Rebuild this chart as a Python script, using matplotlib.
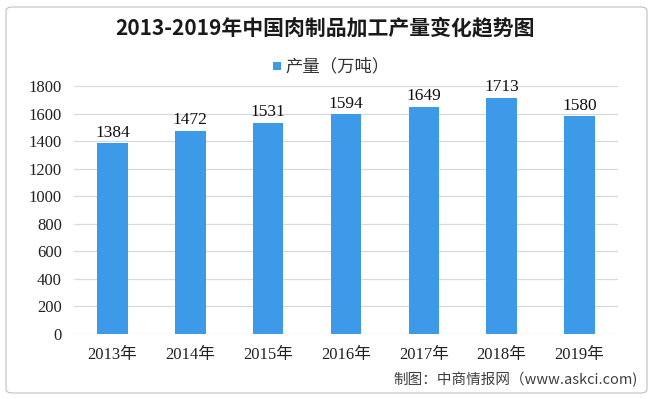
import matplotlib
matplotlib.use("Agg")
import matplotlib.pyplot as plt
from matplotlib.patches import FancyBboxPatch, Rectangle

years = ["2013年", "2014年", "2015年", "2016年", "2017年", "2018年", "2019年"]
output = [1384, 1472, 1531, 1594, 1649, 1713, 1580]
yticks = [0, 200, 400, 600, 800, 1000, 1200, 1400, 1600, 1800]
title = "2013-2019年中国肉制品加工产量变化趋势图"
legend_label = "产量（万吨）"
source = "制图：中商情报网（www.askci.com)"

CJK = ["Noto Sans CJK SC", "DejaVu Sans"]
NUM = ["Liberation Serif", "Noto Sans CJK SC"]
bar_color = "#3d9ae8"

fig = plt.figure(figsize=(6.53, 3.99), dpi=100)
W, H = 653, 399

# outer rounded frame
frame = FancyBboxPatch((6 / W, 6 / H), (641 / W), (386 / H),
                       boxstyle="round,pad=0,rounding_size=0.01",
                       transform=fig.transFigure, facecolor="none",
                       edgecolor="#bfbfbf", linewidth=0.8, zorder=-1)
fig.patches.append(frame)

ax = fig.add_axes([73.6 / W, (H - 334) / H, (618.4 - 73.6) / W, (334 - 86) / H])
ax.set_facecolor("none")
x = range(len(years))
bars = ax.bar(x, output, width=0.39, color=bar_color, zorder=3)
ax.set_xlim(-0.5, len(years) - 0.5)
ax.set_ylim(0, 1800)
ax.set_yticks(yticks)
ax.set_yticklabels([str(v) for v in yticks], family=NUM, fontsize=12, color="#222222")
ax.set_xticks(list(x))
ax.set_xticklabels(years, family=NUM, fontsize=12, color="#222222")
ax.tick_params(axis="both", length=0)
ax.tick_params(axis="y", pad=8.5)
ax.tick_params(axis="x", pad=9)
ax.grid(axis="y", color="#d9d9d9", linewidth=0.9, zorder=0)
for s in ax.spines.values():
    s.set_visible(False)

for xi, v in zip(x, output):
    ax.annotate(str(v), (xi, v), xytext=(0, 2), textcoords="offset points",
                ha="center", va="bottom", family=NUM, fontsize=12.5,
                color="#111111", annotation_clip=False)

fig.text(325 / W, 1 - 28 / H, title, ha="center", va="center",
         family=CJK, fontsize=15, fontweight="bold", color="#1a1a1a")

# legend
fig.patches.append(Rectangle((273 / W, 1 - 70 / H), 8 / W, 8 / H,
                             transform=fig.transFigure, facecolor=bar_color,
                             edgecolor="none"))
fig.text(285 / W, 1 - 66 / H, legend_label, ha="left", va="center",
         family=CJK, fontsize=12.5, color="#333333")

fig.text(638 / W, 1 - 379 / H, source, ha="right", va="center",
         family=CJK, fontsize=10.5, color="#404040")

fig.savefig("out.png", dpi=100)
